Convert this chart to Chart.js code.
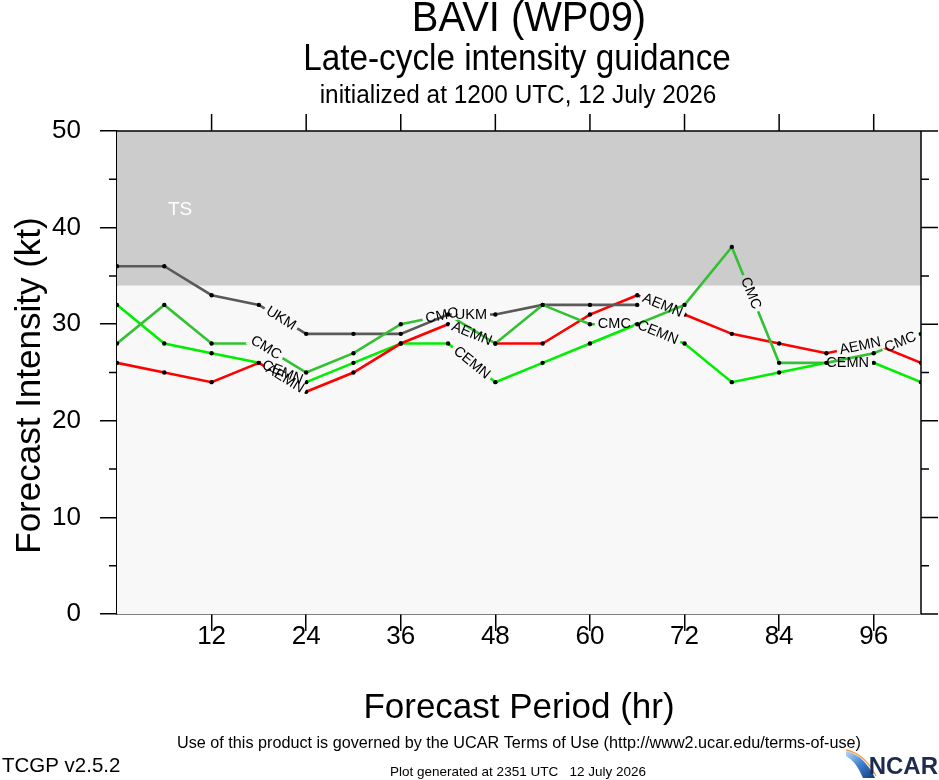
<!DOCTYPE html>
<html lang="en">
<head>
<meta charset="UTF-8">
<title>BAVI (WP09) Late-cycle intensity guidance</title>
<script src="https://cdn.jsdelivr.net/npm/chart.js"></script>
<style>
  body { margin: 0; background: #fff; }
  canvas { display: block; }
</style>
</head>
<body>
<canvas id="intensityChart" width="939" height="780"></canvas>
<script>
// forecast hours and model intensities (kt)
const hours = [0, 6, 12, 18, 24, 30, 36, 42, 48, 54, 60, 66, 72, 78, 84, 90, 96, 102];
const aemn = [26, 25, 24, 26, 23, 25, 28, 30, 28, 28, 31, 33, 31, 29, 28, 27, 28, 26];
const cemn = [32, 28, 27, 26, 24, 26, 28, 28, 24, 26, 28, 30, 28, 24, 25, 26, 26, 24];
const cmc  = [28, 32, 28, 28, 25, 27, 30, 31, 28, 32, 30, 30, 32, 38, 26, 26, 27, 29];
const ukm  = [36, 36, 33, 32, 29, 29, 29, 31, 31, 32, 32, 32];

const xTicks = [12, 24, 36, 48, 60, 72, 84, 96];
const yTicks = [0, 10, 20, 30, 40, 50];
const tsThreshold = 34;

// where the model names sit along each line (forecast hour)
const lineLabels = {
  AEMN: [21.3, 45, 69.2, 94.3],
  CEMN: [21, 45, 68.6, 92.7],
  CMC:  [18.9, 41.2, 63.1, 80.4, 99.4],
  UKM:  [20.8, 44.9]
};

const FONT = "'Liberation Sans', Arial, Helvetica, sans-serif";
Chart.defaults.font.family = FONT;
Chart.defaults.color = '#000';

function toPoints(vals) {
  return vals.map((v, i) => ({ x: hours[i], y: v }));
}

function series(name, vals, color) {
  return {
    label: name,
    data: toPoints(vals),
    borderColor: color,
    borderWidth: 2.6,
    pointRadius: 2.2,
    pointBackgroundColor: '#000',
    pointBorderWidth: 0,
    tension: 0,
    fill: false
  };
}

// position and angle of a label on a dataset's line
function labelGeom(chart, dsIndex, h) {
  const ds = chart.data.datasets[dsIndex];
  const pts = chart.getDatasetMeta(dsIndex).data;
  for (let i = 0; i < ds.data.length - 1; i++) {
    const x0 = ds.data[i].x, x1 = ds.data[i + 1].x;
    if (h >= x0 && h <= x1) {
      const p0 = pts[i], p1 = pts[i + 1];
      const t = (h - x0) / (x1 - x0);
      let ang = Math.atan2(p1.y - p0.y, p1.x - p0.x);
      if (ang > Math.PI / 2) ang -= Math.PI;
      if (ang < -Math.PI / 2) ang += Math.PI;
      return { x: p0.x + t * (p1.x - p0.x), y: p0.y + t * (p1.y - p0.y), ang: ang };
    }
  }
  return null;
}

const labelFont = '14.5px ' + FONT;

// text drawn narrower than the font, like the NCL originals
function stretchText(ctx, text, x, y, size, sx) {
  ctx.save();
  ctx.translate(x, y);
  ctx.scale(sx, 1);
  ctx.font = size + 'px ' + FONT;
  ctx.fillText(text, 0, 0);
  ctx.restore();
}

const linePlugin = {
  id: 'lineLabels',
  beforeDatasetsDraw(chart) {
    const { ctx, chartArea: a, scales: { x, y } } = chart;
    const yTs = y.getPixelForValue(tsThreshold);
    ctx.save();
    ctx.fillStyle = '#f8f8f8';
    ctx.fillRect(a.left, yTs, a.right - a.left, a.bottom - yTs);
    ctx.fillStyle = '#cccccc';
    ctx.fillRect(a.left, a.top, a.right - a.left, yTs - a.top);
    ctx.fillStyle = '#fff';
    ctx.font = '19px ' + FONT;
    ctx.textAlign = 'center';
    ctx.textBaseline = 'middle';
    ctx.fillText('TS', x.getPixelForValue(8), y.getPixelForValue(41.8));
    ctx.restore();
  },
  beforeDatasetDraw(chart, args) {
    const { ctx } = chart;
    const ds = chart.data.datasets[args.index];
    const spots = lineLabels[ds.label] || [];
    ctx.save();
    ctx.font = labelFont;
    ctx.beginPath();
    ctx.rect(0, 0, chart.width, chart.height);
    spots.forEach(h => {
      const g = labelGeom(chart, args.index, h);
      if (!g) return;
      const hw = ctx.measureText(ds.label).width / 2 + 3, hh = 7;
      const c = Math.cos(g.ang), s = Math.sin(g.ang);
      const corners = [[-hw, -hh], [hw, -hh], [hw, hh], [-hw, hh]].map(([u, v]) =>
        [g.x + u * c - v * s, g.y + u * s + v * c]);
      ctx.moveTo(corners[0][0], corners[0][1]);
      for (let k = 1; k < 4; k++) ctx.lineTo(corners[k][0], corners[k][1]);
      ctx.closePath();
    });
    ctx.clip('evenodd');
  },
  afterDatasetDraw(chart) {
    chart.ctx.restore();
  },
  afterDatasetsDraw(chart) {
    const { ctx } = chart;
    ctx.save();
    ctx.font = labelFont;
    ctx.fillStyle = '#000';
    ctx.textAlign = 'center';
    ctx.textBaseline = 'middle';
    chart.data.datasets.forEach((ds, i) => {
      (lineLabels[ds.label] || []).forEach(h => {
        const g = labelGeom(chart, i, h);
        if (!g) return;
        ctx.save();
        ctx.translate(g.x, g.y);
        ctx.rotate(g.ang);
        ctx.fillText(ds.label, 0, 0);
        ctx.restore();
      });
    });
    ctx.restore();
  }
};

// mirrored ticks on top/right, minor ticks, frame and page texts
const framePlugin = {
  id: 'frame',
  afterDraw(chart) {
    const { ctx, chartArea: a, scales: { x, y } } = chart;
    ctx.save();
    ctx.strokeStyle = '#000';
    ctx.lineWidth = 1.5;
    ctx.beginPath();
    ctx.moveTo(a.left, a.top); ctx.lineTo(a.right, a.top); ctx.lineTo(a.right, a.bottom);
    xTicks.forEach(h => {
      const px = x.getPixelForValue(h);
      ctx.moveTo(px, a.top); ctx.lineTo(px, a.top - 17);
    });
    for (let v = 0; v <= 50; v += 5) {
      const py = y.getPixelForValue(v);
      const len = v % 10 === 0 ? 17 : 8;
      ctx.moveTo(a.right, py); ctx.lineTo(a.right + len, py);
      if (v % 10 !== 0) { ctx.moveTo(a.left, py); ctx.lineTo(a.left - len, py); }
    }
    ctx.stroke();

    ctx.fillStyle = '#000';
    ctx.textAlign = 'center';
    ctx.textBaseline = 'middle';
    const cx = (a.left + a.right) / 2;

    // y axis title
    ctx.save();
    ctx.translate(30, (a.top + a.bottom) / 2 + 13);
    ctx.rotate(-Math.PI / 2);
    ctx.font = '35px ' + FONT;
    ctx.fillText('Forecast Intensity (kt)', 0, 0);
    ctx.restore();

    stretchText(ctx, 'BAVI (WP09)', cx + 10, 19, 42, 0.95);
    stretchText(ctx, 'Late-cycle intensity guidance', cx - 2, 60, 36, 0.925);
    stretchText(ctx, 'initialized at 1200 UTC, 12 July 2026', cx - 1, 96, 25.5, 0.955);
    stretchText(ctx, 'Use of this product is governed by the UCAR Terms of Use (http://www2.ucar.edu/terms-of-use)', cx, 743, 16.8, 0.965);
    stretchText(ctx, 'Plot generated at 2351 UTC   12 July 2026', cx - 1, 772, 13.5, 1);
    ctx.textAlign = 'left';
    stretchText(ctx, 'TCGP v2.5.2', 2, 766, 21, 0.975);

    // NCAR logo
    const grad = ctx.createLinearGradient(848, 750, 874, 778);
    grad.addColorStop(0, '#b8d6f2');
    grad.addColorStop(0.5, '#3d7fd0');
    grad.addColorStop(1, '#123a7a');
    ctx.fillStyle = grad;
    ctx.beginPath();
    ctx.moveTo(846, 751);
    ctx.quadraticCurveTo(864, 755, 875, 778);
    ctx.lineTo(863, 778);
    ctx.quadraticCurveTo(856, 761, 846, 756);
    ctx.closePath();
    ctx.fill();
    ctx.strokeStyle = '#f0a050';
    ctx.lineWidth = 1.3;
    ctx.beginPath();
    ctx.moveTo(846, 750);
    ctx.quadraticCurveTo(865, 754, 876, 776);
    ctx.stroke();
    ctx.fillStyle = '#1c2b4e';
    ctx.font = 'bold 24px ' + FONT;
    ctx.textAlign = 'right';
    ctx.fillText('NCAR', 938, 767);
    ctx.restore();
  }
};

new Chart(document.getElementById('intensityChart'), {
  type: 'line',
  data: {
    datasets: [
      series('CMC', cmc, '#33c033'),
      series('UKM', ukm, '#5a5a5a'),
      series('AEMN', aemn, '#ff0000'),
      series('CEMN', cemn, '#00ee00')
    ]
  },
  options: {
    responsive: false,
    animation: false,
    layout: { padding: { top: 131, right: 18, bottom: 50, left: 0 } },
    plugins: { legend: { display: false }, tooltip: { enabled: false } },
    scales: {
      x: {
        type: 'linear',
        min: 0,
        max: 102,
        afterFit: s => { s.height = 116; },
        afterBuildTicks: s => { s.ticks = xTicks.map(v => ({ value: v })); },
        ticks: { font: { size: 26 }, padding: -10, maxRotation: 0 },
        grid: { drawOnChartArea: false, tickLength: 17, color: '#000', lineWidth: 1.5 },
        border: { color: '#000', width: 1.5 },
        title: { display: true, text: 'Forecast Period (hr)', font: { size: 35 }, padding: { bottom: 1 } }
      },
      y: {
        min: 0,
        max: 50,
        afterFit: s => { s.width = 117; },
        afterBuildTicks: s => { s.ticks = yTicks.map(v => ({ value: v })); },
        ticks: { font: { size: 26 }, padding: 19 },
        grid: { drawOnChartArea: false, tickLength: 17, color: '#000', lineWidth: 1.5 },
        border: { color: '#000', width: 1.5 }
      }
    }
  },
  plugins: [linePlugin, framePlugin]
});
</script>
</body>
</html>
